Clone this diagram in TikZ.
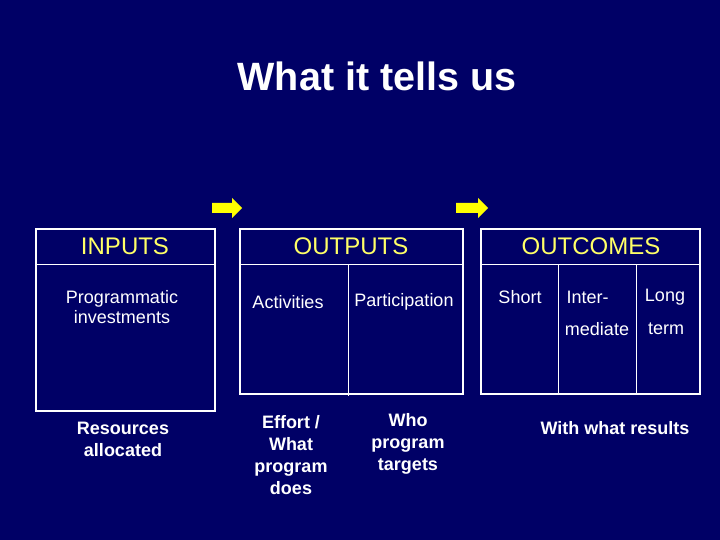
\documentclass[tikz,border=0pt]{standalone}
\usepackage{fontspec}
\setmainfont{Liberation Sans}
\definecolor{bg}{HTML}{000066}
\definecolor{hy}{HTML}{FFFF66}
\definecolor{ay}{HTML}{FFFF00}
\begin{document}
\begin{tikzpicture}[x=1pt,y=-1pt,
  box/.style={draw=white,line width=2.5pt},
  thin/.style={draw=white,line width=0.8pt},
  head/.style={text=hy,font=\fontsize{24}{26}\selectfont},
  body/.style={text=white,font=\fontsize{18}{20}\selectfont,align=center},
  bot/.style={text=white,font=\bfseries\fontsize{18}{22}\selectfont,align=center},
  arr/.style={fill=ay,draw=none}]
\fill[bg] (0,0) rectangle (720,540);
\useasboundingbox (0,0) rectangle (720,540);
\node[text=white,font=\bfseries\fontsize{39.5}{44}\selectfont] (title) at (377,76) {What it tells us};
% arrows
\fill[arr] (212,203) -- (232,203) -- (232,198) -- (242,208) -- (232,218) -- (232,213) -- (212,213) -- cycle;
\fill[arr] (456,203) -- (478,203) -- (478,198) -- (488,208) -- (478,218) -- (478,213) -- (456,213) -- cycle;
% boxes
\draw[box] (36,229) rectangle (215,411);
\draw[thin] (37,264) -- (214,264);
\draw[box] (240,229) rectangle (463,394);
\draw[thin] (241,264) -- (462,264);
\draw[thin] (348,264) -- (348,396);
\draw[box] (481,229) rectangle (700,394);
\draw[thin] (482,264) -- (699,264);
\draw[thin] (558,264) -- (558,394);
\draw[thin] (636,264) -- (636,394);
% headers
\node[head] (hin) at (125,246) {INPUTS};
\node[head] (hout) at (351,246) {OUTPUTS};
\node[head] (hoc) at (591,246) {OUTCOMES};
% body
\node[body,font=\fontsize{18}{20.5}\selectfont] (prog) at (122,307) {Programmatic\\investments};
\node[body] (act) at (288,302) {Activities};
\node[body] (par) at (404,302) {Participation};
\node[body] (sh) at (520,297) {Short};
\node[body,anchor=west] (int) at (563,297) {Inter-};
\node[body] (lo) at (665,297) {Long};
\node[body] (med) at (597,329) {mediate};
\node[body] (tm) at (666,329) {term};
% bottom
\node[bot] (res) at (123,439) {Resources\\allocated};
\node[bot] (eff) at (291,455) {Effort /\\What\\program\\does};
\node[bot] (who) at (408,444) {Who\\program\\targets};
\node[bot] (wr) at (615,428) {With what results};
\end{tikzpicture}
\end{document}
